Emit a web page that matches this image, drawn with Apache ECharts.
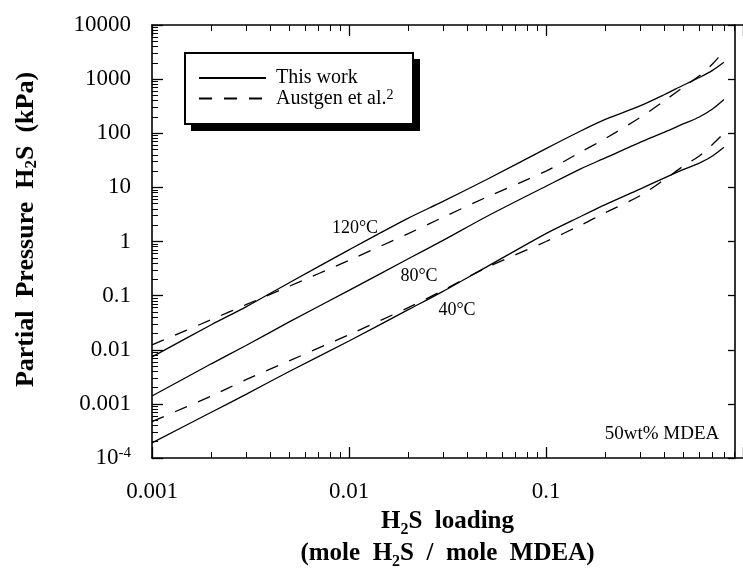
<!DOCTYPE html>
<html><head><meta charset="utf-8">
<script src="https://cdn.jsdelivr.net/npm/echarts@6/dist/echarts.min.js"></script>
<style>html,body{margin:0;padding:0;background:#fff}#c{width:743px;height:575px}</style>
</head><body><div id="c"></div>
<script>
// H2S loading (mole H2S / mole MDEA)
const loading = [0.001, 0.002, 0.003, 0.005, 0.01, 0.02, 0.03, 0.05, 0.1, 0.15, 0.2, 0.3, 0.4, 0.5, 0.6, 0.7, 0.8];
// Partial pressure H2S (kPa) — This work
const thisWork120 = [0.0074, 0.029, 0.062, 0.175, 0.70, 2.7, 5.5, 14, 52, 110, 180, 320, 520, 780, 1070, 1450, 2050];
const thisWork80  = [0.0014, 0.0055, 0.012, 0.033, 0.125, 0.48, 1.05, 2.9, 10.5, 22, 35, 68, 105, 150, 200, 280, 420];
const thisWork40  = [0.00019, 0.0007, 0.0015, 0.004, 0.0145, 0.055, 0.12, 0.34, 1.4, 2.9, 4.8, 9.3, 15, 21.5, 28, 38, 55];
// Austgen et al.
const austgen120  = [0.0123, 0.036, 0.068, 0.15, 0.45, 1.4, 2.8, 6.6, 20, 45, 80, 195, 400, 720, 1150, 1900, 3300];
const austgen40   = [0.00047, 0.0014, 0.0028, 0.0063, 0.019, 0.06, 0.125, 0.33, 1.0, 2.0, 3.4, 7.0, 14, 25, 38, 62, 100];

const xTickValues = [0.001, 0.01, 0.1];
const xTickLabels = ['0.001', '0.01', '0.1'];
const yTickValues = [1e-4, 1e-3, 1e-2, 1e-1, 1, 10, 100, 1000, 10000];
const yTickLabels = ['10^-4', '0.001', '0.01', '0.1', '1', '10', '100', '1000', '10000'];

const SERIF = "'Liberation Serif', 'Times New Roman', serif";

function findLabel(v, vals, labs) {
  for (let i = 0; i < vals.length; i++) {
    if (Math.abs(Math.log10(v) - Math.log10(vals[i])) < 1e-6) return labs[i];
  }
  return '';
}
function richPow(s) {
  if (s.indexOf('^') >= 0) { const p = s.split('^'); return '{n|' + p[0] + '}{sup|' + p[1] + '}'; }
  return s === '' ? '' : '{n|' + s + '}';
}

function mk(name, ys, dashed) {
  return {
    type: 'line', name: name, xAxisIndex: 0, yAxisIndex: 0,
    data: loading.map((x, i) => [x, ys[i]]),
    symbol: 'none', smooth: 0.3, silent: true,
    lineStyle: { color: '#000', width: 1.3, type: dashed ? [13, 12] : 'solid' },
    itemStyle: { color: '#000' }
  };
}

const axisCommon = {
  type: 'log', logBase: 10,
  axisLine: { lineStyle: { color: '#000', width: 1.6 } },
  axisTick: { inside: true, length: 11, lineStyle: { color: '#000', width: 1.3 } },
  minorTick: { show: true, splitNumber: 9, length: 6, lineStyle: { color: '#000', width: 1 } },
  splitLine: { show: false }, minorSplitLine: { show: false }
};
const labelRich = {
  n: { fontFamily: SERIF, fontSize: 23, color: '#000', lineHeight: 24 },
  sup: { fontFamily: SERIF, fontSize: 15, color: '#000', verticalAlign: 'top', lineHeight: 10 }
};

const chart = echarts.init(document.getElementById('c'), null, { renderer: 'canvas' });
chart.setOption({
  animation: false,
  backgroundColor: '#fff',
  grid: { left: 152, top: 25, right: -7, bottom: 117, containLabel: false },
  xAxis: [
    Object.assign({}, axisCommon, {
      min: 0.001, max: 1, position: 'bottom',
      axisLabel: { margin: 22, showMaxLabel: false, formatter: v => richPow(findLabel(v, xTickValues, xTickLabels)), rich: labelRich },
      name: '{b|H}{sub|2}{b|S  loading}\n{b|(mole  H}{sub|2}{b|S  /  mole  MDEA)}',
      nameLocation: 'middle', nameGap: 48,
      nameTextStyle: { rich: {
        b: { fontFamily: SERIF, fontWeight: 'bold', fontSize: 25, lineHeight: 32, color: '#000' },
        sub: { fontFamily: SERIF, fontWeight: 'bold', fontSize: 16, lineHeight: 21, verticalAlign: 'bottom', color: '#000' }
      } }
    }),
    Object.assign({}, axisCommon, {
      min: 0.001, max: 1, position: 'top', axisLabel: { show: false }
    })
  ],
  yAxis: [
    Object.assign({}, axisCommon, {
      min: 1e-4, max: 1e4, position: 'left',
      axisLabel: { margin: 21, formatter: v => richPow(findLabel(v, yTickValues, yTickLabels)), rich: labelRich },
      name: '{b|Partial  Pressure  H}{sub|2}{b|S  (kPa)}',
      nameLocation: 'middle', nameGap: 112, nameRotate: 90,
      nameTextStyle: { padding: [0, 0, 0, 24], rich: {
        b: { fontFamily: SERIF, fontWeight: 'bold', fontSize: 26, lineHeight: 27, color: '#000' },
        sub: { fontFamily: SERIF, fontWeight: 'bold', fontSize: 17, lineHeight: 18, verticalAlign: 'bottom', color: '#000' }
      } }
    }),
    Object.assign({}, axisCommon, {
      min: 1e-4, max: 1e4, position: 'right', offset: -8,
      axisTick: { inside: true, length: 7, lineStyle: { color: '#000', width: 1.3 } },
      minorTick: { show: false },
      axisLabel: { show: false }
    })
  ],
  legend: {
    data: ['This work', 'Austgen et al.'],
    orient: 'vertical', left: 198, top: 68, padding: 0, itemGap: 0,
    itemWidth: 67, itemHeight: 14, z: 10, selectedMode: false,
    itemStyle: { opacity: 0 },
    formatter: name => name === 'Austgen et al.' ? '{t|Austgen et al.}{s|2}' : '{t|' + name + '}',
    textStyle: { rich: {
      t: { fontFamily: SERIF, fontSize: 20, color: '#000', lineHeight: 21, padding: [0, 0, 0, 5] },
      s: { fontFamily: SERIF, fontSize: 14, color: '#000', lineHeight: 8, verticalAlign: 'top' }
    } }
  },
  graphic: [
    { type: 'rect', z: 1, shape: { x: 191, y: 59, width: 229, height: 72 }, style: { fill: '#000' } },
    { type: 'rect', z: 2, shape: { x: 185, y: 53, width: 228, height: 71 }, style: { fill: '#fff', stroke: '#000', lineWidth: 2 } },
    { type: 'text', z: 5, x: 355, y: 228, style: { text: '120°C', font: '18px ' + SERIF, fill: '#000', align: 'center', verticalAlign: 'middle' } },
    { type: 'text', z: 5, x: 419, y: 276, style: { text: '80°C', font: '18px ' + SERIF, fill: '#000', align: 'center', verticalAlign: 'middle' } },
    { type: 'text', z: 5, x: 457, y: 310, style: { text: '40°C', font: '18px ' + SERIF, fill: '#000', align: 'center', verticalAlign: 'middle' } },
    { type: 'text', z: 5, x: 662, y: 434, style: { text: '50wt% MDEA', font: '19px ' + SERIF, fill: '#000', align: 'center', verticalAlign: 'middle' } }
  ],
  series: [
    mk('This work', thisWork120, false),
    mk('This work', thisWork80, false),
    mk('This work', thisWork40, false),
    mk('Austgen et al.', austgen120, true),
    mk('Austgen et al.', austgen40, true)
  ]
});
</script></body></html>
